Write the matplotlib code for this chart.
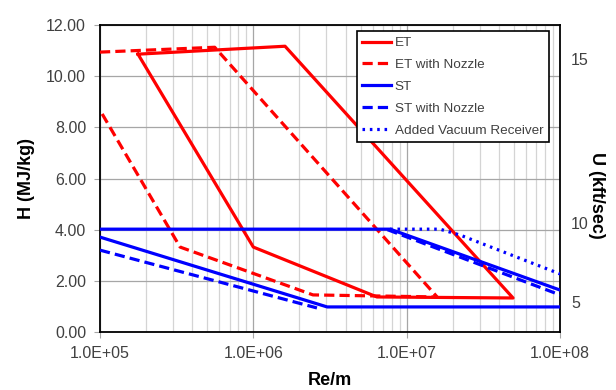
import matplotlib
matplotlib.use('Agg')
import matplotlib.pyplot as plt
from matplotlib.ticker import FixedLocator, NullFormatter

plt.rcParams['font.family'] = ['Liberation Sans', 'DejaVu Sans']

# ET (closed loop)
et_re = [1.77e5, 1.61e6, 4.94e7, 6.4e6, 1.0e6, 1.77e5]
et_h = [10.86, 11.17, 1.33, 1.37, 3.32, 10.86]

# ET with nozzle
etn_re = [1.0e5, 5.6e5, 1.58e7, 2.45e6, 3.33e5, 1.0e5]
etn_h = [10.94, 11.13, 1.37, 1.45, 3.32, 8.67]

# ST
st_re = [1.0e5, 7.8e6, 1.0e8]
st_h = [4.02, 4.02, 1.64]
st_low_re = [1.0e5, 3.03e6, 1.0e8]
st_low_h = [3.71, 0.98, 0.98]

# ST with nozzle
stn_re = [7.5e6, 1.0e8]
stn_h = [4.0, 1.45]
stn_low_re = [1.0e5, 2.6e6]
stn_low_h = [3.2, 0.94]

# Added vacuum receiver
avr_re = [7.8e6, 1.65e7, 2.23e7, 1.0e8]
avr_h = [4.02, 4.02, 3.79, 2.27]

# right axis: U (kft/sec) labels placed at their H positions
u_labels = ['5', '10', '15']
u_at_h = [1.17, 4.26, 10.66]

fig = plt.figure(figsize=(6.16, 3.90), dpi=100)
ax = fig.add_axes([0.1623, 0.1487, 0.7468, 0.7872])

red = '#ff0000'
blue = '#0000ff'
lw = 2.3
dash = (0, (3.2, 1.6))

ax.plot(et_re, et_h, color=red, lw=lw, label='ET', zorder=3)
ax.plot(etn_re, etn_h, color=red, lw=lw, ls=dash, label='ET with Nozzle', zorder=3)
ax.plot(st_re, st_h, color=blue, lw=lw, label='ST', zorder=3)
ax.plot(st_low_re, st_low_h, color=blue, lw=lw, zorder=3)
ax.plot(stn_re, stn_h, color=blue, lw=lw, ls=dash, label='ST with Nozzle', zorder=3)
ax.plot(stn_low_re, stn_low_h, color=blue, lw=lw, ls=dash, zorder=3)
ax.plot(avr_re, avr_h, color=blue, lw=lw, ls=(0, (0.8, 1.5)), label='Added Vacuum Receiver', zorder=3)

ax.set_xscale('log')
ax.set_xlim(1e5, 1e8)
ax.set_ylim(0, 12)
ax.set_yticks([0, 2, 4, 6, 8, 10, 12])
ax.set_yticklabels([f'{v:.2f}' for v in [0, 2, 4, 6, 8, 10, 12]])
ax.set_xticks([1e5, 1e6, 1e7, 1e8])
ax.set_xticklabels(['1.0E+05', '1.0E+06', '1.0E+07', '1.0E+08'])
ax.xaxis.set_minor_locator(FixedLocator([m * 10 ** d for d in (5, 6, 7) for m in range(2, 10)]))
ax.xaxis.set_minor_formatter(NullFormatter())

ax.grid(True, which='major', color='#a6a6a6', lw=0.9)
ax.grid(True, which='minor', axis='x', color='#d4d4d4', lw=0.9)
ax.tick_params(which='major', length=4, color='#a6a6a6', labelsize=11.5, labelcolor='#404040', pad=6)
ax.tick_params(which='minor', length=0)
for s in ax.spines.values():
    s.set_color('black')
    s.set_linewidth(1.3)

ax.set_xlabel('Re/m', fontsize=13, fontweight='bold', labelpad=8)
ax.set_ylabel('H (MJ/kg)', fontsize=13, fontweight='bold', labelpad=8)

ax2 = ax.twinx()
ax2.set_ylim(0, 12)
ax2.set_yticks(u_at_h)
ax2.set_yticklabels(u_labels)
ax2.tick_params(length=0, labelsize=11.5, labelcolor='#404040', pad=8)
ax2.set_ylabel('U (kft/sec)', fontsize=13, fontweight='bold', rotation=-90, va='center')
ax2.yaxis.set_label_coords(1.08, 0.445)
for s in ax2.spines.values():
    s.set_visible(False)

leg = ax.legend(loc='upper right', bbox_to_anchor=(0.976, 0.98), fontsize=9.7,
                frameon=True, fancybox=False, edgecolor='black', framealpha=1,
                handlelength=2.1, handletextpad=0.3, labelspacing=0.7, borderpad=0.42,
                borderaxespad=0)
leg.get_frame().set_linewidth(1.2)
for t in leg.get_texts():
    t.set_color('#404040')

fig.savefig('out.png', dpi=100)
